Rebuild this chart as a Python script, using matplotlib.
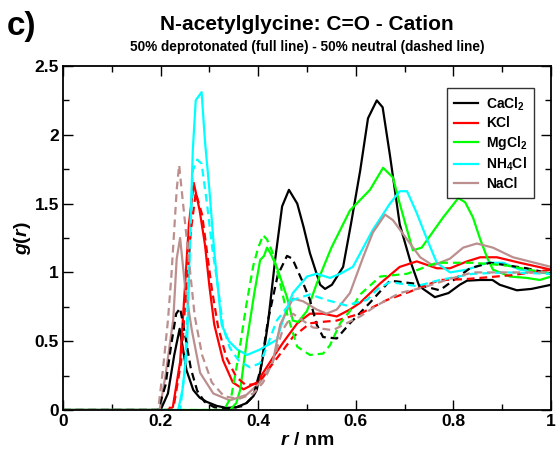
import matplotlib
matplotlib.use('Agg')
import matplotlib.pyplot as plt
from matplotlib.ticker import MultipleLocator, FormatStrFormatter

plt.rcParams['font.family'] = 'Liberation Sans'
plt.rcParams['font.weight'] = 'bold'
plt.rcParams['mathtext.fontset'] = 'custom'
plt.rcParams['mathtext.rm'] = 'Liberation Sans:bold'
plt.rcParams['mathtext.bf'] = 'Liberation Sans:bold'
plt.rcParams['mathtext.it'] = 'Liberation Sans:bold:italic'

# g(r) curves, full line = deprotonated, dashed = neutral
ca_x = [0, 0.2, 0.215, 0.228, 0.239, 0.253, 0.267, 0.28, 0.294, 0.315, 0.335, 0.355,
        0.376, 0.39, 0.397, 0.41, 0.42, 0.435, 0.449, 0.463, 0.48, 0.493, 0.506, 0.527,
        0.537, 0.551, 0.574, 0.59, 0.609, 0.625, 0.643, 0.655, 0.67, 0.69, 0.711, 0.73,
        0.762, 0.79, 0.813, 0.828, 0.855, 0.88, 0.895, 0.93, 0.96, 1.0]
ca_y = [0, 0, 0.12, 0.4, 0.59, 0.29, 0.145, 0.09, 0.06, 0.03, 0.015, 0.02,
        0.05, 0.1, 0.145, 0.39, 0.63, 1.1, 1.48, 1.6, 1.5, 1.33, 1.14, 0.91,
        0.88, 0.91, 1.04, 1.35, 1.74, 2.12, 2.25, 2.2, 1.85, 1.35, 1.09, 0.9,
        0.82, 0.85, 0.91, 0.94, 0.945, 0.945, 0.91, 0.87, 0.88, 0.91]
ca_xn = [0, 0.195, 0.21, 0.222, 0.232, 0.24, 0.25, 0.262, 0.275, 0.29, 0.31, 0.34,
         0.37, 0.39, 0.405, 0.42, 0.44, 0.459, 0.47, 0.49, 0.506, 0.52, 0.533, 0.561,
         0.588, 0.629, 0.67, 0.717, 0.772, 0.834, 0.875, 0.95, 1.0]
ca_yn = [0, 0, 0.18, 0.48, 0.7, 0.74, 0.55, 0.3, 0.14, 0.06, 0.02, 0.01,
         0.03, 0.1, 0.3, 0.65, 0.98, 1.12, 1.1, 0.94, 0.8, 0.62, 0.53, 0.52,
         0.63, 0.78, 0.94, 0.92, 0.87, 1.03, 1.07, 1.03, 0.99]

k_x = [0, 0.215, 0.225, 0.24, 0.25, 0.258, 0.268, 0.28, 0.291, 0.30, 0.31, 0.328,
       0.348, 0.37, 0.397, 0.41, 0.43, 0.451, 0.48, 0.506, 0.533, 0.561, 0.588, 0.609,
       0.65, 0.69, 0.725, 0.766, 0.793, 0.828, 0.855, 0.889, 0.936, 1.0]
k_y = [0, 0, 0.02, 0.35, 0.9, 1.35, 1.65, 1.45, 1.2, 0.9, 0.62, 0.36,
       0.2, 0.15, 0.2, 0.27, 0.38, 0.49, 0.63, 0.7, 0.7, 0.68, 0.73, 0.78,
       0.92, 1.04, 1.08, 1.03, 1.03, 1.08, 1.11, 1.11, 1.07, 1.02]
k_xn = [0, 0.215, 0.228, 0.242, 0.252, 0.262, 0.272, 0.285, 0.295, 0.305, 0.318, 0.335,
        0.355, 0.375, 0.395, 0.41, 0.424, 0.45, 0.471, 0.506, 0.53, 0.561, 0.609, 0.664,
        0.711, 0.772, 0.82, 0.855, 0.92, 1.0]
k_yn = [0, 0, 0.05, 0.35, 0.85, 1.3, 1.58, 1.42, 1.15, 0.88, 0.6, 0.38,
        0.24, 0.18, 0.19, 0.24, 0.31, 0.43, 0.53, 0.63, 0.64, 0.65, 0.7, 0.8,
        0.86, 0.945, 0.95, 0.96, 0.98, 1.02]

mg_x = [0, 0.342, 0.355, 0.363, 0.377, 0.393, 0.404, 0.412, 0.418, 0.425, 0.438, 0.459,
        0.471, 0.482, 0.50, 0.52, 0.55, 0.588, 0.629, 0.656, 0.676, 0.69, 0.705, 0.717,
        0.735, 0.755, 0.779, 0.81, 0.824, 0.84, 0.855, 0.87, 0.881, 0.916, 0.95, 0.977, 1.0]
mg_y = [0, 0, 0.05, 0.145, 0.51, 0.87, 1.09, 1.12, 1.18, 1.14, 1.04, 0.82,
        0.65, 0.64, 0.72, 0.92, 1.18, 1.45, 1.6, 1.76, 1.69, 1.5, 1.31, 1.16,
        1.18, 1.28, 1.4, 1.54, 1.51, 1.4, 1.24, 1.1, 1.02, 0.97, 0.96, 0.945, 0.97]
mg_xn = [0, 0.33, 0.345, 0.36, 0.375, 0.39, 0.40, 0.41, 0.418, 0.43, 0.445, 0.459,
         0.48, 0.506, 0.533, 0.547, 0.568, 0.588, 0.609, 0.65, 0.705, 0.766, 0.84, 0.909, 1.0]
mg_yn = [0, 0, 0.1, 0.4, 0.75, 1.05, 1.18, 1.27, 1.24, 1.14, 0.92, 0.7,
         0.46, 0.4, 0.41, 0.47, 0.63, 0.72, 0.84, 0.97, 0.99, 1.07, 1.07, 1.05, 0.99]

nh4_x = [0, 0.236, 0.245, 0.254, 0.26, 0.266, 0.272, 0.284, 0.291, 0.30, 0.31, 0.325,
         0.34, 0.357, 0.377, 0.404, 0.438, 0.455, 0.471, 0.5, 0.52, 0.547, 0.568, 0.594,
         0.635, 0.67, 0.69, 0.705, 0.725, 0.746, 0.766, 0.793, 0.828, 0.869, 0.902, 0.936, 1.0]
nh4_y = [0, 0, 0.15, 0.44, 1.2, 1.89, 2.25, 2.31, 1.95, 1.6, 1.15, 0.62,
         0.5, 0.44, 0.4, 0.44, 0.51, 0.7, 0.85, 0.97, 0.99, 0.96, 0.99, 1.04,
         1.31, 1.5, 1.59, 1.59, 1.43, 1.24, 1.07, 1.0, 1.02, 1.07, 1.07, 1.02, 0.99]
nh4_xn = [0, 0.24, 0.25, 0.258, 0.266, 0.275, 0.284, 0.295, 0.305, 0.318, 0.328, 0.342,
          0.36, 0.383, 0.404, 0.42, 0.438, 0.471, 0.506, 0.54, 0.58, 0.623, 0.645, 0.67,
          0.725, 0.772, 0.84, 0.909, 1.0]
nh4_yn = [0, 0, 0.3, 1.0, 1.74, 1.82, 1.79, 1.5, 1.2, 0.88, 0.6, 0.45,
          0.36, 0.31, 0.34, 0.48, 0.65, 0.8, 0.84, 0.8, 0.76, 0.8, 0.88, 0.93,
          0.9, 0.945, 0.99, 1.0, 0.99]

na_x = [0, 0.198, 0.21, 0.226, 0.233, 0.24, 0.25, 0.264, 0.281, 0.308, 0.342, 0.376,
        0.404, 0.43, 0.445, 0.471, 0.492, 0.52, 0.54, 0.561, 0.588, 0.615, 0.635, 0.66,
        0.676, 0.705, 0.732, 0.758, 0.793, 0.82, 0.848, 0.881, 0.922, 1.0]
na_y = [0, 0, 0.25, 0.66, 1.1, 1.25, 0.9, 0.58, 0.27, 0.12, 0.07, 0.11,
        0.2, 0.35, 0.62, 0.81, 0.79, 0.73, 0.7, 0.73, 0.85, 1.11, 1.29, 1.42,
        1.38, 1.24, 1.11, 1.05, 1.1, 1.18, 1.21, 1.18, 1.11, 1.04]
na_xn = [0, 0.195, 0.205, 0.215, 0.222, 0.233, 0.238, 0.246, 0.256, 0.27, 0.285, 0.305,
         0.33, 0.36, 0.39, 0.41, 0.43, 0.45, 0.471, 0.512, 0.553, 0.609, 0.643, 0.69,
         0.738, 0.79, 0.84, 0.922, 1.0]
na_yn = [0, 0, 0.3, 0.65, 0.97, 1.6, 1.78, 1.5, 1.16, 0.68, 0.4, 0.2,
         0.1, 0.08, 0.12, 0.2, 0.35, 0.58, 0.7, 0.6, 0.58, 0.68, 0.76, 0.85,
         0.89, 0.95, 1.0, 1.0, 1.0]

labels = ['CaCl$_2$', 'KCl', 'MgCl$_2$', 'NH$_4$Cl', 'NaCl']
colors = ['#000000', '#ff0000', '#00ff00', '#00ffff', '#bc8f8f']
full = [(ca_x, ca_y), (k_x, k_y), (mg_x, mg_y), (nh4_x, nh4_y), (na_x, na_y)]
neutral = [(ca_xn, ca_yn), (k_xn, k_yn), (mg_xn, mg_yn), (nh4_xn, nh4_yn), (na_xn, na_yn)]

fig = plt.figure(figsize=(5.56, 4.53), dpi=100)
ax = fig.add_axes([63 / 556, 1 - 410 / 453, 488 / 556, 344 / 453])

lw = 1.6
for (x, y), c, lab in zip(full, colors, labels):
    ax.plot(x, y, color=c, lw=lw, label=lab)
for (x, y), c in zip(neutral, colors):
    ax.plot(x, y, color=c, lw=lw, linestyle=(0, (3.5, 2.2)))

ax.set_xlim(0, 1)
ax.set_ylim(0, 2.5)
ax.xaxis.set_major_locator(MultipleLocator(0.2))
ax.xaxis.set_minor_locator(MultipleLocator(0.1))
ax.yaxis.set_major_locator(MultipleLocator(0.5))
ax.yaxis.set_minor_locator(MultipleLocator(0.25))
ax.xaxis.set_major_formatter(FormatStrFormatter('%g'))
ax.yaxis.set_major_formatter(FormatStrFormatter('%g'))
ax.tick_params(which='both', direction='in', top=True, right=True, width=1.0,
               labelsize=12.5, pad=3)
ax.tick_params(which='major', length=7)
ax.tick_params(which='minor', length=4)
for s in ax.spines.values():
    s.set_linewidth(1.3)

ax.set_xlabel(r'$r\ /\ \mathrm{nm}$', fontsize=14, labelpad=2)
ax.set_ylabel('$g(r)$', fontsize=14, labelpad=1)

leg = ax.legend(loc='upper left', bbox_to_anchor=(0.787, 0.935), fontsize=10,
                frameon=True, fancybox=False, edgecolor='black', handlelength=1.7,
                handletextpad=0.6, labelspacing=0.27, borderpad=0.5,
                borderaxespad=0)
leg.get_frame().set_linewidth(1.0)

fig.text(307 / 556, 1 - 24 / 453, 'N-acetylglycine: C=O - Cation', ha='center',
         va='center', fontsize=15, fontweight='bold')
fig.text(307 / 556, 1 - 47 / 453, '50% deprotonated (full line) - 50% neutral (dashed line)',
         ha='center', va='center', fontsize=9.8, fontweight='bold')
fig.text(7 / 556, 1 - 27 / 453, 'c)', ha='left', va='center', fontsize=24,
         fontweight='bold')

fig.savefig('out.png', dpi=100)
